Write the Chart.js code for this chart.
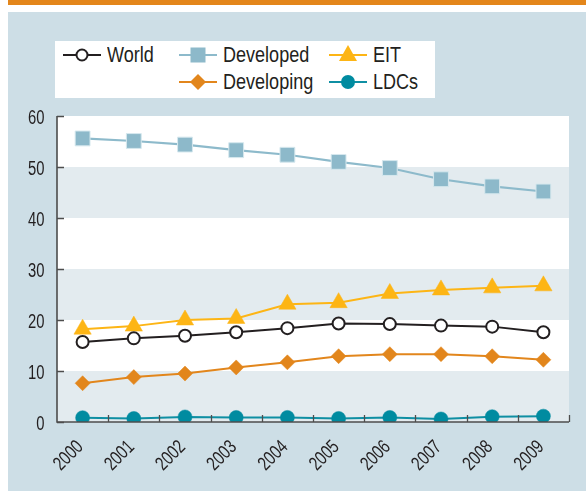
<!DOCTYPE html>
<html><head><meta charset="utf-8">
<script src="https://cdn.jsdelivr.net/npm/chart.js@4/dist/chart.umd.min.js"></script>
<style>
html,body{margin:0;padding:0;background:#fff;width:586px;height:491px;overflow:hidden;}
#topbar{position:absolute;left:8px;top:0;width:578px;height:5px;background:#e3861b;}
#bg{position:absolute;left:8px;top:12px;width:578px;height:479px;background:#cddee6;}
#wrap{position:absolute;left:0;top:0;width:586px;height:491px;}
#legend{position:absolute;left:55px;top:41px;width:380px;height:57px;background:#fff;}
.li{position:absolute;height:26px;display:flex;align-items:center;font-family:"Liberation Sans",Arial,sans-serif;font-size:22px;color:#231f20;white-space:nowrap;}
.li svg{margin-right:5px;flex:none;}
.li span{display:inline-block;transform:scaleX(0.82);transform-origin:0 50%;}
</style></head>
<body>
<div id="topbar"></div>
<div id="bg"></div>
<div id="wrap"><canvas id="c" width="586" height="491"></canvas></div>
<div id="legend"></div>
<script>
const categories = ["2000","2001","2002","2003","2004","2005","2006","2007","2008","2009"];
const world      = [15.7,16.4,16.9,17.6,18.4,19.3,19.2,18.9,18.7,17.6];
const developed  = [55.6,55.1,54.4,53.3,52.4,51.0,49.8,47.6,46.2,45.2];
const eit        = [18.2,18.8,20.0,20.3,23.1,23.4,25.2,25.9,26.3,26.7];
const developing = [7.6,8.8,9.5,10.7,11.7,12.9,13.3,13.3,12.9,12.2];
const ldcs       = [0.85,0.7,1.0,0.9,0.9,0.7,0.9,0.6,1.05,1.15];
const yTicks     = [0,10,20,30,40,50,60];

const FONT = '"Liberation Sans",Arial,sans-serif';
const TICK_FONT_SIZE = 19.5, TICK_SCALE_X = 0.76;

const datasets = [
  {label:"World", data:world, borderColor:"#231f20", backgroundColor:"#ffffff", pointStyle:"circle", pointRadius:6, pointBorderWidth:2, borderWidth:2, order:2},
  {label:"Developed", data:developed, borderColor:"#8dbacb", backgroundColor:"#8db9ca", pointBorderColor:"#d6e8ee", pointStyle:"rect", pointRadius:10.5, pointBorderWidth:1, borderWidth:2.2, order:5},
  {label:"EIT", data:eit, borderColor:"#fdb515", backgroundColor:"#fdb515", pointBorderColor:"#fdb515", pointStyle:"triangle", pointRadius:10, pointBorderWidth:0.5, borderWidth:2, order:3},
  {label:"Developing", data:developing, borderColor:"#e2861c", backgroundColor:"#e2861c", pointBorderColor:"#e2861c", pointStyle:"rectRot", pointRadius:7.5, pointBorderWidth:0.5, borderWidth:2, order:4},
  {label:"LDCs", data:ldcs, borderColor:"#0f8fa3", backgroundColor:"#008ba0", pointBorderColor:"#008ba0", pointStyle:"circle", pointRadius:7, pointBorderWidth:0.5, borderWidth:2, order:1}
];
datasets.forEach(d=>{d.fill=false;d.tension=0;d.pointHoverRadius=d.pointRadius;});

const bandsPlugin = {
  id:'bands',
  beforeDatasetsDraw(chart){
    const {ctx, chartArea:a, scales:{y}} = chart;
    ctx.save();
    for(let i=0;i<yTicks.length-1;i++){
      const y0 = y.getPixelForValue(yTicks[i]);
      const y1 = y.getPixelForValue(yTicks[i+1]);
      ctx.fillStyle = (i%2===0) ? '#e3ebef' : '#ffffff';
      ctx.fillRect(a.left, y1, a.right-a.left, y0-y1);
    }
    ctx.restore();
  },
  afterDatasetsDraw(chart){
    const {ctx, chartArea:a, scales:{x,y}} = chart;
    ctx.save();
    ctx.strokeStyle = '#4d4d4d';
    ctx.lineWidth = 1.3;
    ctx.beginPath();
    yTicks.forEach(v=>{const p=Math.round(y.getPixelForValue(v))+0.5; ctx.moveTo(a.left,p); ctx.lineTo(a.left+7,p);});
    for(let i=1;i<=categories.length;i++){
      const p = (i<categories.length) ? (x.getPixelForValue(i-1)+x.getPixelForValue(i))/2 : a.right;
      const px = Math.round(p)+0.5;
      ctx.moveTo(px,a.bottom); ctx.lineTo(px,a.bottom-7);
    }
    ctx.stroke();
    ctx.lineWidth = 1.6;
    ctx.beginPath();
    ctx.moveTo(a.left, a.top); ctx.lineTo(a.left, a.bottom); ctx.lineTo(a.right, a.bottom);
    ctx.stroke();

    // condensed tick labels, positioned from the library's scales
    ctx.fillStyle = '#231f20';
    ctx.font = TICK_FONT_SIZE + 'px ' + FONT;
    const capHalf = 0.716*TICK_FONT_SIZE/2;
    y.ticks.forEach((t,i)=>{
      const py = y.getPixelForTick(i);
      ctx.save();
      ctx.translate(a.left-12.5, py + 1.5 + capHalf);
      ctx.scale(TICK_SCALE_X,1);
      ctx.textAlign='right'; ctx.textBaseline='alphabetic';
      ctx.fillText(String(t.value),0,0);
      ctx.restore();
    });
    x.ticks.forEach((t,i)=>{
      const px = x.getPixelForTick(i);
      ctx.save();
      ctx.translate(px - 3.5, a.bottom + 21);
      ctx.rotate(-Math.PI/4);
      ctx.scale(TICK_SCALE_X,1);
      ctx.textAlign='right'; ctx.textBaseline='alphabetic';
      ctx.fillText(x.getLabelForValue(t.value),0,capHalf);
      ctx.restore();
    });
    ctx.restore();
  }
};

const chart = new Chart(document.getElementById('c'), {
  type:'line',
  data:{labels:categories, datasets},
  options:{
    responsive:false, animation:false,
    layout:{padding:{left:0,right:17,top:116,bottom:0}},
    plugins:{legend:{display:false}, tooltip:{enabled:false}},
    scales:{
      y:{min:0,max:60,
        afterFit(s){s.width=57;},
        afterBuildTicks(s){s.ticks = yTicks.map(v=>({value:v}));},
        ticks:{display:false},
        grid:{display:false,drawTicks:false}, border:{display:false}},
      x:{offset:true,
        afterFit(s){s.height=69;},
        ticks:{display:false,autoSkip:false},
        grid:{display:false,drawTicks:false}, border:{display:false}}
    }
  },
  plugins:[bandsPlugin]
});

// HTML legend built from datasets
function iconSVG(d){
  let m='';
  const c=20,cy=13;
  if(d.pointStyle==='circle' && d.label==='World') m=`<circle cx="${c}" cy="${cy}" r="5.5" fill="#fff" stroke="${d.borderColor}" stroke-width="2"/>`;
  else if(d.pointStyle==='circle') m=`<circle cx="${c}" cy="${cy}" r="7" fill="${d.backgroundColor}"/>`;
  else if(d.pointStyle==='rect') m=`<rect x="${c-7.5}" y="${cy-7.5}" width="15" height="15" fill="${d.backgroundColor}"/>`;
  else if(d.pointStyle==='triangle') m=`<polygon points="${c},${cy-10} ${c+9},${cy+6} ${c-9},${cy+6}" fill="${d.backgroundColor}"/>`;
  else if(d.pointStyle==='rectRot') m=`<polygon points="${c},${cy-8} ${c+8},${cy} ${c},${cy+8} ${c-8},${cy}" fill="${d.backgroundColor}"/>`;
  return `<svg width="40" height="26"><line x1="1" y1="${cy}" x2="39" y2="${cy}" stroke="${d.borderColor}" stroke-width="2"/>${m}</svg>`;
}
const pos = {World:[7,1],Developed:[123,1],EIT:[273,1],Developing:[123,28],LDCs:[273,28]};
const leg = document.getElementById('legend');
datasets.forEach(d=>{
  const el=document.createElement('div');
  el.className='li';
  el.style.left=pos[d.label][0]+'px';
  el.style.top=pos[d.label][1]+'px';
  el.innerHTML=iconSVG(d)+'<span>'+d.label+'</span>';
  leg.appendChild(el);
});
</script>
</body></html>
